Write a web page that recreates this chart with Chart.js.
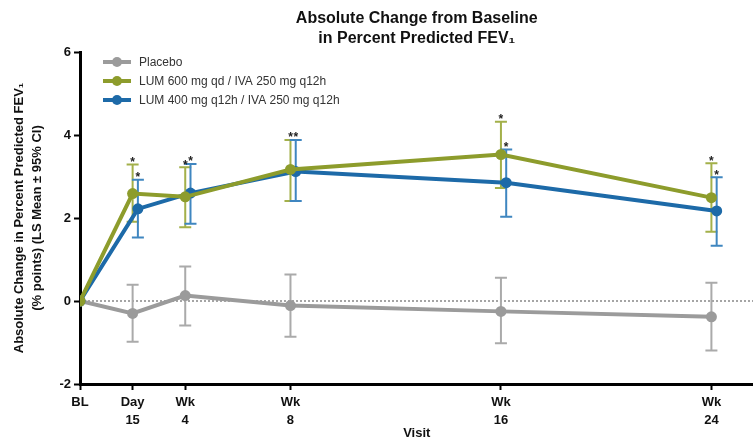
<!DOCTYPE html>
<html>
<head>
<meta charset="utf-8">
<script src="https://cdn.jsdelivr.net/npm/chart.js@4.4.1/dist/chart.umd.min.js"></script>
<style>
  html, body { margin: 0; padding: 0; background: #fff; overflow: hidden; }
  #wrap { width: 753px; height: 441px; overflow: hidden; }
</style>
</head>
<body>
<div id="wrap"><canvas id="chart" width="759" height="441"></canvas></div>
<script>
// ── data ──
const visitLabels = [["BL"], ["Day", "15"], ["Wk", "4"], ["Wk", "8"], ["Wk", "16"], ["Wk", "24"]];
const visitWeeks = [0, 2, 4, 8, 16, 24];

const placeboMean = [0, -0.30, 0.13, -0.11, -0.25, -0.38];
const placeboLow = [null, -0.98, -0.59, -0.86, -1.02, -1.19];
const placeboHigh = [null, 0.39, 0.83, 0.64, 0.56, 0.44];

const lum600Mean = [0, 2.59, 2.51, 3.17, 3.53, 2.49];
const lum600Low = [null, 1.91, 1.78, 2.41, 2.72, 1.67];
const lum600High = [null, 3.29, 3.22, 3.88, 4.32, 3.32];
const lum600Sig = [false, true, true, true, true, true];

const lum400Mean = [0, 2.22, 2.60, 3.12, 2.85, 2.17];
const lum400Low = [null, 1.53, 1.86, 2.41, 2.03, 1.33];
const lum400High = [null, 2.92, 3.30, 3.88, 3.65, 2.98];
const lum400Sig = [false, true, true, true, true, true];

const GRAY = "#9b9b9b", GREEN = "#8d9c2c", BLUE = "#1d6aa8";
const FONT = "'Liberation Sans', Arial, sans-serif";

function pts(mean, low, high, nudge) {
  return mean.map((v, i) => ({ x: visitWeeks[i] + (i ? nudge : 0), y: v, lo: low[i], hi: high[i] }));
}

// ══════════════════════════════════════════
// PLUGINS
// ══════════════════════════════════════════
const errorBars = {
  id: "errorBars",
  beforeDatasetsDraw(chart) {
    const { ctx, chartArea, scales } = chart;
    // dotted zero line
    const y0 = scales.y.getPixelForValue(0);
    ctx.save();
    ctx.strokeStyle = "#888";
    ctx.lineWidth = 1.5;
    ctx.setLineDash([2, 2]);
    ctx.beginPath();
    ctx.moveTo(chartArea.left, y0);
    ctx.lineTo(chartArea.right, y0);
    ctx.stroke();
    ctx.setLineDash([]);
    chart.data.datasets.forEach((ds) => {
      ctx.strokeStyle = ds.barColor;
      ctx.lineWidth = 2;
      ds.data.forEach((p) => {
        if (p.lo == null) return;
        const x = scales.x.getPixelForValue(p.x);
        const yl = scales.y.getPixelForValue(p.lo);
        const yh = scales.y.getPixelForValue(p.hi);
        ctx.beginPath();
        ctx.moveTo(x, yl); ctx.lineTo(x, yh);
        ctx.moveTo(x - 6, yl); ctx.lineTo(x + 6, yl);
        ctx.moveTo(x - 6, yh); ctx.lineTo(x + 6, yh);
        ctx.stroke();
      });
    });
    ctx.restore();
  },
  afterDatasetsDraw(chart) {
    const { ctx, scales } = chart;
    ctx.save();
    ctx.fillStyle = "#222";
    ctx.font = "bold 12px " + FONT;
    ctx.textAlign = "center";
    ctx.textBaseline = "bottom";
    chart.data.datasets.forEach((ds) => {
      if (!ds.sig) return;
      ds.data.forEach((p, i) => {
        if (!ds.sig[i]) return;
        ctx.fillText("*", scales.x.getPixelForValue(p.x), scales.y.getPixelForValue(p.hi) + 4);
      });
    });
    ctx.restore();
  },
  afterDraw(chart) {
    // legend inside the plot area
    const { ctx } = chart;
    const order = [2, 0, 1];
    ctx.save();
    ctx.font = "12px " + FONT;
    ctx.textBaseline = "middle";
    order.forEach((di, row) => {
      const ds = chart.data.datasets[di];
      const y = 62 + row * 19;
      ctx.strokeStyle = ds.borderColor;
      ctx.lineWidth = 4;
      ctx.beginPath();
      ctx.moveTo(103, y); ctx.lineTo(131, y);
      ctx.stroke();
      ctx.fillStyle = ds.borderColor;
      ctx.beginPath();
      ctx.arc(117, y, 5, 0, Math.PI * 2);
      ctx.fill();
      ctx.fillStyle = "#333";
      ctx.fillText(ds.label, 139, y + 1);
    });
    ctx.restore();
  },
};

// ══════════════════════════════════════════
// CHART
// ══════════════════════════════════════════
const tickFont = { family: FONT, size: 13, weight: "bold" };

new Chart(document.getElementById("chart"), {
  type: "line",
  data: {
    datasets: [
      {
        label: "LUM 600 mg qd / IVA 250 mg q12h",
        data: pts(lum600Mean, lum600Low, lum600High, 0),
        borderColor: GREEN, backgroundColor: GREEN, barColor: "#a3b04a",
        sig: lum600Sig, order: 1,
      },
      {
        label: "LUM 400 mg q12h / IVA 250 mg q12h",
        data: pts(lum400Mean, lum400Low, lum400High, 0.2),
        borderColor: BLUE, backgroundColor: BLUE, barColor: "#3f86c0",
        sig: lum400Sig, order: 2,
      },
      {
        label: "Placebo",
        data: pts(placeboMean, placeboLow, placeboHigh, 0),
        borderColor: GRAY, backgroundColor: GRAY, barColor: "#aaaaaa",
        order: 3,
      },
    ],
  },
  options: {
    responsive: false,
    animation: false,
    layout: { padding: { top: 6, right: 0, bottom: 0, left: 10 } },
    elements: {
      line: { borderWidth: 4, tension: 0 },
      point: { radius: 5.5, borderWidth: 0 },
    },
    plugins: {
      legend: { display: false },
      tooltip: { enabled: false },
      title: {
        display: true,
        fullSize: false,
        text: ["Absolute Change from Baseline", "in Percent Predicted FEV\u2081"],
        color: "#111",
        font: { family: FONT, size: 16, weight: "bold", lineHeight: 1.25 },
        padding: { top: 3, bottom: 3 },
      },
    },
    scales: {
      x: {
        type: "linear",
        min: 0,
        max: 25.6,
        afterBuildTicks: (s) => { s.ticks = visitWeeks.map((v) => ({ value: v })); },
        afterFit: (s) => { s.height = 57; },
        ticks: {
          color: "#111",
          font: { family: FONT, size: 13, weight: "bold", lineHeight: 1.35 },
          padding: 4,
          autoSkip: false,
          maxRotation: 0,
          callback: (v) => visitLabels[visitWeeks.indexOf(v)],
        },
        grid: { drawOnChartArea: false, tickLength: 6, tickWidth: 2, tickColor: "#000" },
        border: { color: "#000", width: 3 },
        title: { display: true, text: "Visit", color: "#111", font: tickFont, padding: { top: -4, bottom: 0 } },
      },
      y: {
        min: -2,
        max: 6,
        afterFit: (s) => { s.width = 70; },
        ticks: { stepSize: 2, color: "#111", font: tickFont, padding: 3 },
        grid: { drawOnChartArea: false, tickLength: 6, tickWidth: 2, tickColor: "#000" },
        border: { color: "#000", width: 3 },
        title: {
          display: true,
          text: ["Absolute Change in Percent Predicted FEV\u2081", "(% points) (LS Mean \u00b1 95% CI)"],
          color: "#111",
          font: { family: FONT, size: 13, weight: "bold", lineHeight: 1.4 },
          padding: { top: 0, bottom: 2 },
        },
      },
    },
  },
  plugins: [errorBars],
});
</script>
</body>
</html>
